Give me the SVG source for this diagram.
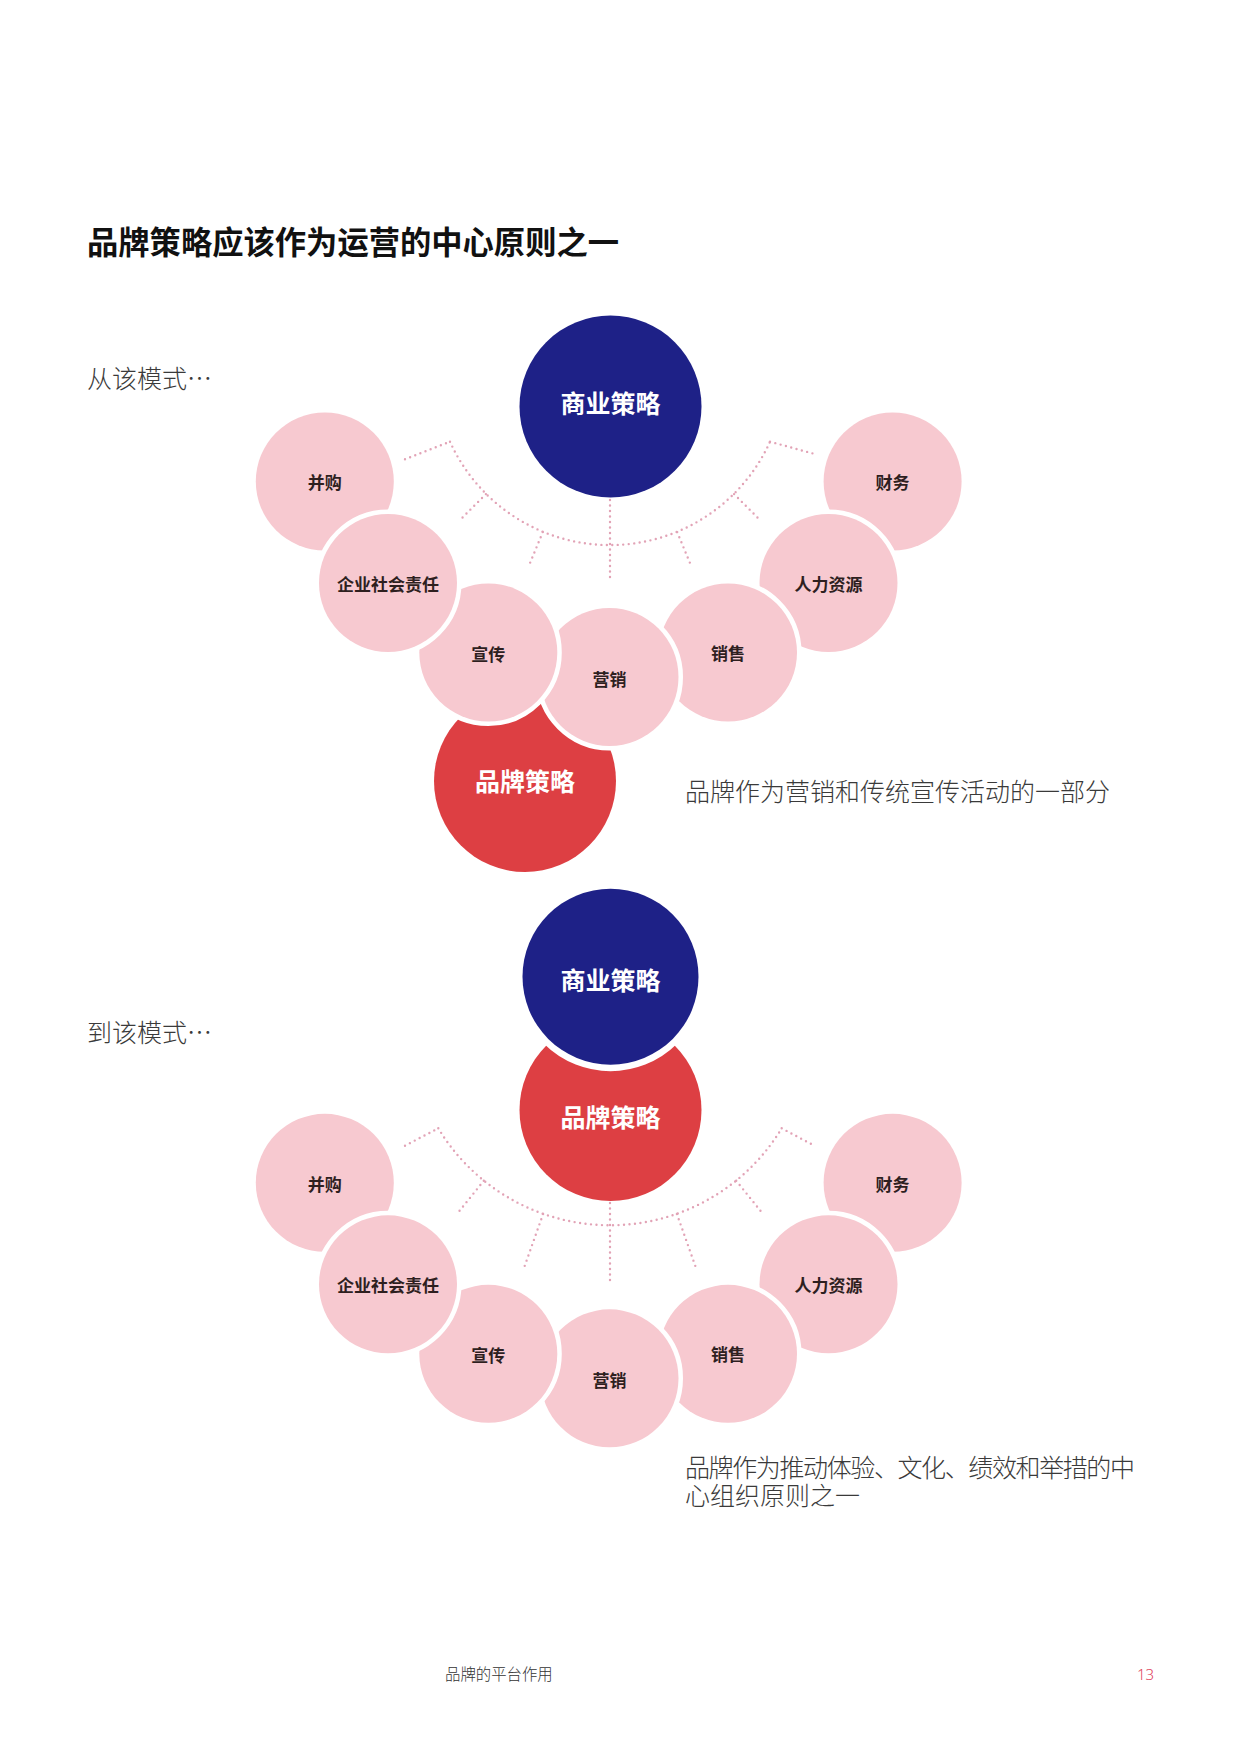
<svg xmlns="http://www.w3.org/2000/svg" width="1240" height="1754" viewBox="0 0 1240 1754">
<style>
.bg{fill:#ffffff}
.title{font-family:"Noto Sans CJK SC","Noto Sans",sans-serif;font-weight:700;font-size:31.3px;fill:#111}
.body{font-family:"Noto Sans CJK SC","Noto Sans",sans-serif;font-weight:300;font-size:25px;fill:#3a3a3a}
.foot{font-family:"Noto Sans CJK SC","Noto Sans",sans-serif;font-weight:300;font-size:15.4px;fill:#333}
.pnum{font-family:"Noto Sans","Noto Sans CJK SC",sans-serif;font-weight:300;font-size:15px;fill:#E0405A}
.pink{fill:#F7C9D0;stroke:#fff;stroke-width:9;paint-order:stroke}
.navy{fill:#1E2187}
.navyr{fill:#1E2187;stroke:#fff;stroke-width:13;paint-order:stroke}
.red{fill:#DD3F43}
.plabel{font-family:"Noto Sans CJK SC",sans-serif;font-weight:700;font-size:17px;fill:#2E1F1F;text-anchor:middle}
.blabel{font-family:"Noto Sans CJK SC",sans-serif;font-weight:700;font-size:25px;fill:#fff;text-anchor:middle}
.dot{fill:none;stroke:#E2A3B6;stroke-width:2.4;stroke-linecap:round;stroke-dasharray:0 5.5}
</style>
<rect class="bg" x="0" y="0" width="1240" height="1754"/>

<text class="title" x="87" y="254">品牌策略应该作为运营的中心原则之一</text>
<text class="body" x="87" y="388">从该模式…</text>
<text class="body" x="87" y="1042">到该模式…</text>
<text class="body" x="685" y="801">品牌作为营销和传统宣传活动的一部分</text>
<text class="body"><tspan x="685" y="1477" textLength="450" lengthAdjust="spacing">品牌作为推动体验、文化、绩效和举措的中</tspan><tspan x="685" y="1505">心组织原则之一</tspan></text>

<!-- connectors -->
<g id="connectors">
  <g id="top-connectors">
    <path class="dot" d="M450 441.7 A175.5 175.5 0 0 0 770 441.7"/>
    <path class="dot" d="M405 459.3 L450 441.7"/>
    <path class="dot" d="M770 441.7 L813 453.5"/>
    <path class="dot" d="M610 500 L610 580"/>
    <path class="dot" d="M542.8 532.1 L529.6 564"/>
    <path class="dot" d="M677.2 532.1 L690.4 564"/>
    <path class="dot" d="M485.9 494.1 L461.5 518.5"/>
    <path class="dot" d="M734.1 494.1 L758.5 518.5"/>
  </g>
  <g id="bottom-connectors">
    <path class="dot" d="M438.3 1128.3 A200.5 200.5 0 0 0 781.7 1128.3"/>
    <path class="dot" d="M405 1145.7 L438.3 1128.3"/>
    <path class="dot" d="M781.7 1128.3 L815 1146"/>
    <path class="dot" d="M610 1203 L610 1282"/>
    <path class="dot" d="M543.1 1214 L523.9 1268.2"/>
    <path class="dot" d="M676.9 1214 L696.1 1268.2"/>
    <path class="dot" d="M483.8 1180.8 L456.4 1214.6"/>
    <path class="dot" d="M736.2 1180.8 L763.6 1214.6"/>
  </g>
</g>

<!-- top diagram -->
<g id="top-business">
  <circle class="navy" cx="610.5" cy="406.5" r="91"/>
  <text class="blabel" x="610.5" y="413">商业策略</text>
</g>
<g id="top-brand">
  <circle class="red" cx="525" cy="781" r="91"/>
  <text class="blabel" x="525" y="790.5">品牌策略</text>
</g>
<g id="top-mna"><circle class="pink" cx="324.8" cy="481.5" r="69"/><text class="plabel" x="324.8" y="489">并购</text></g>
<g id="top-finance"><circle class="pink" cx="892.6" cy="481.5" r="69"/><text class="plabel" x="892.6" y="489">财务</text></g>
<g id="top-hr"><circle class="pink" cx="828.5" cy="583" r="69"/><text class="plabel" x="828.5" y="590.5">人力资源</text></g>
<g id="top-sales"><circle class="pink" cx="728" cy="652.5" r="69"/><text class="plabel" x="728" y="659.5">销售</text></g>
<g id="top-marketing"><circle class="pink" cx="609.5" cy="677" r="69"/><text class="plabel" x="609.5" y="686">营销</text></g>
<g id="top-pr"><circle class="pink" cx="488.3" cy="652.5" r="69"/><text class="plabel" x="488.3" y="660.5">宣传</text></g>
<g id="top-csr"><circle class="pink" cx="388" cy="583" r="69"/><text class="plabel" x="388" y="590.5">企业社会责任</text></g>

<!-- bottom diagram -->
<g id="bottom-brand">
  <circle class="red" cx="610.5" cy="1110" r="91"/>
  <text class="blabel" x="610.5" y="1127">品牌策略</text>
</g>
<g id="bottom-business">
  <circle class="navyr" cx="610.5" cy="976.7" r="88"/>
  <text class="blabel" x="610.5" y="989.5">商业策略</text>
</g>
<g id="bottom-mna"><circle class="pink" cx="324.8" cy="1182.8" r="69"/><text class="plabel" x="324.8" y="1190.5">并购</text></g>
<g id="bottom-finance"><circle class="pink" cx="892.6" cy="1182.8" r="69"/><text class="plabel" x="892.6" y="1190.5">财务</text></g>
<g id="bottom-hr"><circle class="pink" cx="828.5" cy="1284.3" r="69"/><text class="plabel" x="828.5" y="1291.8">人力资源</text></g>
<g id="bottom-sales"><circle class="pink" cx="728" cy="1353.8" r="69"/><text class="plabel" x="728" y="1360.8">销售</text></g>
<g id="bottom-marketing"><circle class="pink" cx="609.5" cy="1378.3" r="69"/><text class="plabel" x="609.5" y="1387.3">营销</text></g>
<g id="bottom-pr"><circle class="pink" cx="488.3" cy="1353.8" r="69"/><text class="plabel" x="488.3" y="1361.8">宣传</text></g>
<g id="bottom-csr"><circle class="pink" cx="388" cy="1284.3" r="69"/><text class="plabel" x="388" y="1291.8">企业社会责任</text></g>

<text class="foot" x="445" y="1680">品牌的平台作用</text>
<text class="pnum" x="1137" y="1680">13</text>
</svg>
